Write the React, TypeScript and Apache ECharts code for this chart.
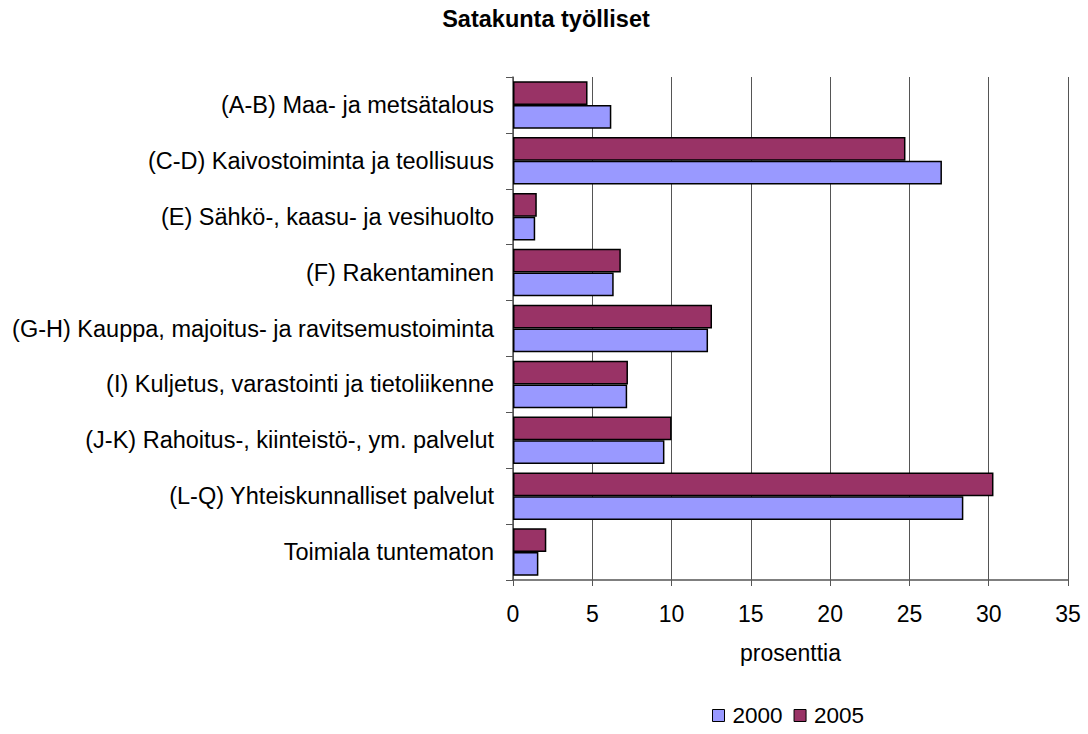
import React, { useEffect, useRef } from "react";
import * as echarts from "echarts";

const categories = [
  "(A-B) Maa- ja metsätalous",
  "(C-D) Kaivostoiminta ja teollisuus",
  "(E) Sähkö-, kaasu- ja vesihuolto",
  "(F) Rakentaminen",
  "(G-H) Kauppa, majoitus- ja ravitsemustoiminta",
  "(I) Kuljetus, varastointi ja tietoliikenne",
  "(J-K) Rahoitus-, kiinteistö-, ym. palvelut",
  "(L-Q) Yhteiskunnalliset palvelut",
  "Toimiala tuntematon",
];
const values2000 = [6.2, 27.05, 1.4, 6.35, 12.3, 7.2, 9.55, 28.4, 1.6];
const values2005 = [4.7, 24.75, 1.5, 6.8, 12.55, 7.25, 10.0, 30.3, 2.1];
const xTicks = { min: 0, max: 35, interval: 5 };

export default function App() {
  const ref = useRef<HTMLDivElement>(null);
  useEffect(() => {
    const chart = echarts.init(ref.current!, null, { renderer: "svg" });
    const font = "'Liberation Sans', Arial, sans-serif";
    chart.setOption({
      animation: false,
      title: {
        text: "Satakunta työlliset",
        left: 546,
        top: 7,
        padding: 0,
        textAlign: "center",
        textStyle: { fontFamily: font, fontSize: 23.5, fontWeight: "bold", color: "#000" },
      },
      legend: {
        data: ["2000", "2005"],
        left: 712,
        top: 704,
        padding: 0,
        itemWidth: 12,
        itemHeight: 12,
        itemGap: 11,
        icon: "rect",
        itemStyle: { borderColor: "#000", borderWidth: 1 },
        textStyle: { fontFamily: font, fontSize: 22.5, color: "#000", padding: [0, 0, 0, 3] },
      },
      grid: { left: 513, right: 20, top: 77, bottom: 154, containLabel: false },
      xAxis: {
        type: "value",
        min: xTicks.min,
        max: xTicks.max,
        interval: xTicks.interval,
        name: "prosenttia",
        nameLocation: "middle",
        nameGap: 61,
        nameTextStyle: { fontFamily: font, fontSize: 23, color: "#000" },
        axisLine: { show: true, lineStyle: { color: "#555", width: 1.5 } },
        axisTick: { show: true, length: 6, lineStyle: { color: "#555" } },
        axisLabel: { fontFamily: font, fontSize: 23, color: "#000", margin: 22 },
        splitLine: { show: true, lineStyle: { color: "#555", width: 1 } },
      },
      yAxis: {
        type: "category",
        data: categories,
        inverse: true,
        axisLine: { show: true, lineStyle: { color: "#555", width: 1.5 } },
        axisTick: { show: true, length: 7, lineStyle: { color: "#555" } },
        axisLabel: { fontFamily: font, fontSize: 23.5, color: "#000", margin: 19 },
        splitLine: { show: false },
      },
      series: [
        {
          name: "2005",
          type: "bar",
          data: values2005,
          barGap: "0%",
          barCategoryGap: "15%",
          itemStyle: { color: "#993366", borderColor: "#000", borderWidth: 1.5 },
        },
        {
          name: "2000",
          type: "bar",
          data: values2000,
          barGap: "0%",
          barCategoryGap: "15%",
          itemStyle: { color: "#9999FF", borderColor: "#000", borderWidth: 1.5 },
        },
      ],
    });
    return () => chart.dispose();
  }, []);
  return (
    <div
      ref={ref}
      style={{ position: "fixed", left: 0, top: 0, width: 1088, height: 734, background: "#fff" }}
    />
  );
}
